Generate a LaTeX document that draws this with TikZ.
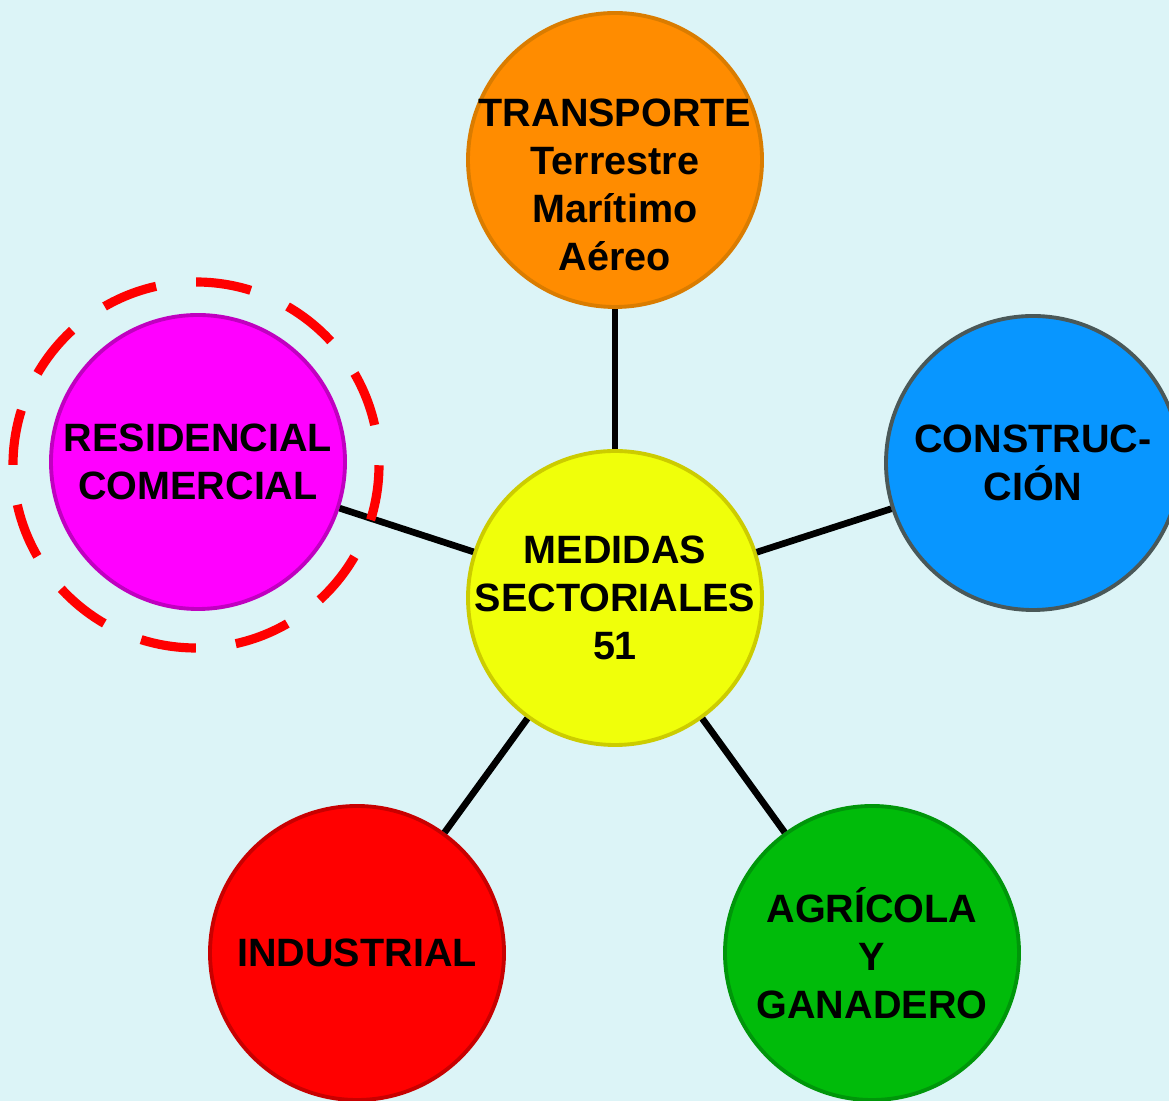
\documentclass[tikz,border=0pt]{standalone}
\usepackage{fontspec}
\setmainfont{Liberation Sans}
\usepackage{tikz}
\usetikzlibrary{calc, positioning}

\definecolor{fondo}{RGB}{220,244,247}
\definecolor{amarillo}{RGB}{240,255,10}
\definecolor{amarilloborde}{RGB}{204,204,0}
\definecolor{naranja}{RGB}{255,140,0}
\definecolor{naranjaborde}{RGB}{218,124,0}
\definecolor{azul}{RGB}{8,150,255}
\definecolor{azulborde}{RGB}{74,88,88}
\definecolor{magenta2}{RGB}{255,0,255}
\definecolor{magentaborde}{RGB}{192,0,192}
\definecolor{rojo}{RGB}{255,0,0}
\definecolor{rojoborde}{RGB}{200,0,0}
\definecolor{verde}{RGB}{0,187,10}
\definecolor{verdeborde}{RGB}{0,150,10}

\begin{document}
\begin{tikzpicture}[
    sector/.style={circle, minimum size=2.94cm, inner sep=-1.5mm, line width=1.1pt,
                   align=center, font=\fontsize{11.25}{13.7}\selectfont\bfseries},
    texto/.style={align=center, font=\fontsize{11.25}{13.7}\selectfont\bfseries},
    enlace/.style={line width=1.9pt, black}
    ]
        \fill[fondo] (0,0) rectangle (11.69,-11.01);
        \useasboundingbox (0,0) rectangle (11.69,-11.01);
        %\draw[very thin,color=gray] (0,-11) grid (11,0);

        \node[sector, draw=amarilloborde, fill=amarillo] (medidas) at (6.15,-5.98) {MEDIDAS\\SECTORIALES\\51};
        \node[sector, draw=naranjaborde, fill=naranja] (transporte) at (6.15,-1.60) {};
        \node[texto] at ([yshift=-0.25cm]transporte.center) {TRANSPORTE\\Terrestre\\Marítimo\\Aéreo};
        \node[sector, draw=azulborde, fill=azul] (construccion) at (10.33,-4.63) {CONSTRUC-\\CIÓN};
        \node[sector, draw=magentaborde, fill=magenta2] (residencial) at (1.98,-4.62) {RESIDENCIAL\\COMERCIAL};
        \node[sector, draw=rojoborde, fill=rojo] (industrial) at (3.57,-9.53) {INDUSTRIAL};
        \node[sector, draw=verdeborde, fill=verde] (agricola) at (8.72,-9.53) {AGRÍCOLA\\Y\\GANADERO};

        \draw[enlace] (medidas) -- (transporte);
        \draw[enlace] (medidas) -- (construccion);
        \draw[enlace] (medidas) -- (residencial);
        \draw[enlace] (medidas) -- (industrial);
        \draw[enlace] (medidas) -- (agricola);

        % resaltado
        \draw[rojo, line width=2.6pt, dash pattern=on 15.8pt off 11.46pt, dash phase=15.8pt] ($(residencial.center)+(-0.02,-0.03)$) circle (1.83cm);
\end{tikzpicture}
\end{document}
